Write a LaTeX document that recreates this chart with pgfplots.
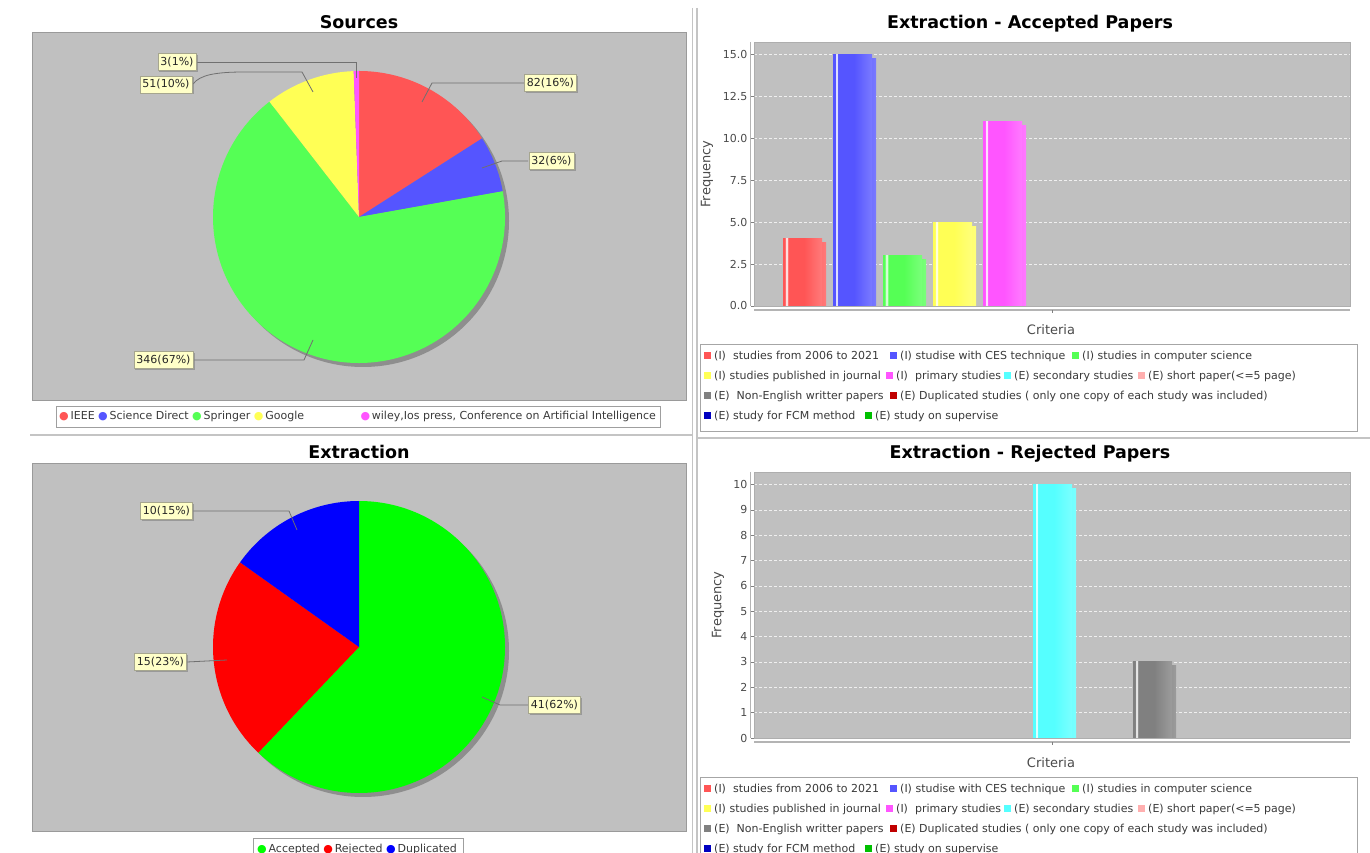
\documentclass[border=0pt]{standalone}
\usepackage{pgfplots}
\pgfplotsset{compat=1.18}
\usepackage{pgfplotstable}
\usepackage{fontspec}
\setmainfont{DejaVu Sans}
\usetikzlibrary{shadows}

% panel colours
\definecolor{plotbg}{HTML}{C0C0C0}
\definecolor{framegray}{HTML}{9A9A9A}
\definecolor{shadowgray}{HTML}{8E8E8E}
\definecolor{labelfill}{HTML}{FFFFC8}
\definecolor{labeldraw}{HTML}{A6A68E}
\definecolor{leader}{HTML}{707070}
\definecolor{ticktext}{HTML}{4A4A4A}
\definecolor{legtext}{HTML}{3A3A3A}
\definecolor{sepgray}{HTML}{C4C4C4}
\definecolor{axisgray}{HTML}{B4B4B4}
% series palette
\definecolor{cRed}{HTML}{FF5555}
\definecolor{cBlue}{HTML}{5555FF}
\definecolor{cGreen}{HTML}{55FF55}
\definecolor{cYellow}{HTML}{FFFF55}
\definecolor{cMagenta}{HTML}{FF55FF}
\definecolor{cCyan}{HTML}{55FFFF}
\definecolor{cPink}{HTML}{FFAFAF}
\definecolor{cGray}{HTML}{808080}
\definecolor{cDkRed}{HTML}{C00000}
\definecolor{cDkBlue}{HTML}{0000C0}
\definecolor{cDkGreen}{HTML}{00C000}
\definecolor{pAcc}{HTML}{00FF00}
\definecolor{pRej}{HTML}{FF0000}
\definecolor{pDup}{HTML}{0000FF}

\colorlet{srccol0}{cRed}
\colorlet{srccol1}{cBlue}
\colorlet{srccol2}{cGreen}
\colorlet{srccol3}{cYellow}
\colorlet{srccol4}{cMagenta}
\colorlet{extcol0}{pAcc}
\colorlet{extcol1}{pRej}
\colorlet{extcol2}{pDup}
\colorlet{critcol0}{cRed}
\colorlet{critcol1}{cBlue}
\colorlet{critcol2}{cGreen}
\colorlet{critcol3}{cYellow}
\colorlet{critcol4}{cMagenta}
\colorlet{critcol5}{cCyan}
\colorlet{critcol6}{cPink}
\colorlet{critcol7}{cGray}
\colorlet{critcol8}{cDkRed}
\colorlet{critcol9}{cDkBlue}
\colorlet{critcol10}{cDkGreen}

% bar fill: thin light stripe near the left edge, slightly lighter towards the right
\newcommand\barshading[1]{%
  \colorlet{tmpbase}{#1}\colorlet{tmpstripe}{white!80!#1}\colorlet{tmplight}{#1!78!white}%
  \pgfdeclarehorizontalshading{bar#1}{100bp}{color(0bp)=(tmpbase); color(25bp)=(tmpbase);
    color(27.6bp)=(tmpbase); color(28.4bp)=(tmpstripe); color(30.6bp)=(tmpstripe);
    color(31.4bp)=(tmpbase); color(52bp)=(tmpbase); color(75bp)=(tmplight); color(100bp)=(tmplight)}}
\foreach \k in {0,...,10}{\barshading{critcol\k}}

% Sources: IEEE, Science Direct, Springer, Google, wiley/Ios press/...
\pgfplotstableread{
count
82
32
346
51
3
}\sourcesdata

% Extraction: Accepted, Rejected, Duplicated
\pgfplotstableread{
count
41
15
10
}\extractiondata

% criteria frequencies
\pgfplotstableread{
idx accepted rejected
0  4  0
1  15 0
2  3  0
3  5  0
4  11 0
5  0  10
6  0  0
7  0  3
8  0  0
9  0  0
10 0  0
}\criteriadata

% slice angles: clockwise from 12 o'clock, stored globally as <prefix>A<i>, <prefix>B<i>
\newcommand\piesetup[2]{%
  \pgfplotstablegetrowsof{#1}%
  \pgfmathtruncatemacro\pielast{\pgfplotsretval-1}%
  \xdef\pietot{0}%
  \foreach \i in {0,...,\pielast}{%
    \pgfplotstablegetelem{\i}{count}\of#1%
    \pgfmathsetmacro\pieT{\pietot+\pgfplotsretval}\xdef\pietot{\pieT}}%
  \xdef\piecum{0}%
  \foreach \i in {0,...,\pielast}{%
    \pgfplotstablegetelem{\i}{count}\of#1%
    \pgfmathsetmacro\pieA{90-360*(\piecum/\pietot)}%
    \pgfmathsetmacro\pieC{\piecum+\pgfplotsretval}\xdef\piecum{\pieC}%
    \pgfmathsetmacro\pieB{90-360*(\piecum/\pietot)}%
    \expandafter\xdef\csname #2A\i\endcsname{\pieA}%
    \expandafter\xdef\csname #2B\i\endcsname{\pieB}}}

\newcommand\pieslice[4]{%
  \fill[#1] (axis cs:0,0) -- (axis cs:{cos(#2)},{sin(#2)})
    arc[start angle=#2, end angle=#3, radius=#4] -- cycle;}

\newcommand\drawpie[3]{% prefix, slice indices, colour prefix
  \fill[shadowgray] (axis cs:0,0) ++(4pt,-4pt) circle[radius=146pt];
  \pgfplotsinvokeforeach{#2}{%
    \edef\doslice{\noexpand\pieslice{#3##1}{\csname #1A##1\endcsname}{\csname #1B##1\endcsname}{146pt}}%
    \doslice}}

\newcommand\titlefont{\fontsize{17.5}{21}\selectfont\bfseries}
\newcommand\axlabfont{\fontsize{13}{15}\selectfont}
\newcommand\legfont{\fontsize{11}{13}\selectfont}
\newcommand\labfont{\fontsize{11}{13}\selectfont}

\pgfplotsset{
  pieaxis/.style={
    scale only axis, anchor=south west, width=654pt, height=368pt,
    axis background/.style={fill=plotbg},
    axis line style={draw=framegray, line width=0.8pt},
    xtick=\empty, ytick=\empty},
  barchart/.style={
    scale only axis, anchor=south west, width=596pt,
    xmin=-0.97, xmax=10.95, ymin=0,
    axis background/.style={fill=plotbg},
    axis line style={draw=framegray!80, line width=0.8pt},
    xtick=\empty, ytick pos=left,
    ymajorgrids, major grid style={densely dashed, white!75!plotbg, line width=0.6pt},
    tick align=outside, major tick length=3pt,
    ytick style={draw=gray, line width=0.6pt},
    yticklabel style={font=\legfont, text=ticktext},
    /pgf/number format/assume math mode=true},
  critbar/.style={ybar, bar shift=0pt, bar width=39pt, draw=none,
    shade, shading=bar#1,
    restrict y to domain=0.5:1000,
    drop shadow={shadow xshift=4pt, shadow yshift=-4pt, opacity=1, fill=shadowgray}},
}

\tikzset{
  labelbox/.style={fill=labelfill, draw=labeldraw, line width=0.7pt,
    inner xsep=2.5pt, inner ysep=2pt, minimum height=17pt, font=\labfont, text=black!85,
    drop shadow={shadow xshift=1.5pt, shadow yshift=-1.5pt, opacity=0.6, fill=gray}},
  leaderline/.style={draw=leader, line width=0.8pt},
}

\newcommand\legsq[4]{%
  \node[anchor=west, inner sep=0pt, font=\legfont, text=legtext] at (#1,{853-(#2)})
    {\textcolor{#3}{\rule[0.5pt]{7pt}{7pt}}\hspace{3pt}#4};}

\newcommand\critlegend[1]{% top edge of the legend box
  \draw[gray!70, fill=white, line width=0.8pt] (700,{853-(#1)}) rectangle (1357,{853-(#1)-87});
  \legsq{704}{#1+12}{cRed}{(I)\ \ studies from 2006 to 2021}
  \legsq{890}{#1+12}{cBlue}{(I) studise with CES technique}
  \legsq{1072}{#1+12}{cGreen}{(I) studies in computer science}
  \legsq{704}{#1+32}{cYellow}{(I) studies published in journal}
  \legsq{886}{#1+32}{cMagenta}{(I)\ \ primary studies}
  \legsq{1004}{#1+32}{cCyan}{(E) secondary studies}
  \legsq{1138}{#1+32}{cPink}{(E) short paper(<=5 page)}
  \legsq{704}{#1+52}{cGray}{(E)\ \ Non-English writter papers}
  \legsq{890}{#1+52}{cDkRed}{(E) Duplicated studies ( only one copy of each study was included)}
  \legsq{704}{#1+72}{cDkBlue}{(E) study for FCM method}
  \legsq{865}{#1+72}{cDkGreen}{(E) study on supervise}}

\piesetup{\sourcesdata}{src}
\piesetup{\extractiondata}{ext}

\begin{document}
\begin{tikzpicture}[x=1pt, y=1pt]
\path[use as bounding box] (0,0) rectangle (1370,853);
\clip (0,0) rectangle (1370,853);

% panel separators
\draw[sepgray, line width=1.2pt] (692.5,853-8) -- (692.5,0);
\draw[sepgray, line width=1.2pt] (697,853-8) -- (697,0);
\draw[sepgray, line width=1.5pt] (30,853-435) -- (692,853-435);
\draw[sepgray, line width=1.5pt] (697,853-438) -- (1370,853-438);

% ---------------- Sources ----------------
\node[font=\titlefont, anchor=base] at (359,853-29) {Sources};
\begin{axis}[pieaxis, at={(32pt,453pt)},
  xmin=-2.2397, xmax=2.2397, ymin=-1.2534, ymax=1.2671]
  \drawpie{src}{0,...,4}{srccol}
\end{axis}
\draw[leaderline] (197,853-62) -- (356,853-62) -- (356,853-78);
\draw[leaderline] (193,853-84) .. controls (200,853-75) and (215,853-72) .. (245,853-72) -- (302,853-72) -- (313,853-92);
\draw[leaderline] (524,853-83) -- (432,853-83) -- (422,853-102);
\draw[leaderline] (528,853-161) -- (502,853-161) -- (482,853-168);
\draw[leaderline] (193,853-360) -- (304,853-360) -- (313,853-340);
\node[labelbox] at (177,853-62) {3(1\%)};
\node[labelbox] at (166,853-84.5) {51(10\%)};
\node[labelbox] at (550.5,853-83) {82(16\%)};
\node[labelbox] at (551.5,853-161) {32(6\%)};
\node[labelbox] at (163.5,853-360) {346(67\%)};
\draw[gray!75, fill=white, line width=0.8pt] (56,853-406) rectangle (660,853-427);
\node[anchor=west, inner sep=0pt, font=\legfont, text=legtext] at (59,853-416.5)
  {\textcolor{cRed}{●}\,IEEE \textcolor{cBlue}{●}\,Science Direct \textcolor{cGreen}{●}\,Springer \textcolor{cYellow}{●}\,Google};
\node[anchor=east, inner sep=0pt, font=\legfont, text=legtext] at (656,853-416.5)
  {\textcolor{cMagenta}{●}\,wiley,Ios press, Conference on Artificial Intelligence};

% ---------------- Extraction ----------------
\node[font=\titlefont, anchor=base] at (359,853-459) {Extraction};
\begin{axis}[pieaxis, at={(32pt,22pt)},
  xmin=-2.2397, xmax=2.2397, ymin=-1.2603, ymax=1.2603]
  \drawpie{ext}{0,...,2}{extcol}
\end{axis}
\draw[leaderline] (193,853-511) -- (289,853-511) -- (297,853-530);
\draw[leaderline] (187,853-662) -- (227,853-660);
\draw[leaderline] (528,853-705) -- (500,853-705) -- (482,853-697);
\node[labelbox] at (166.5,853-511) {10(15\%)};
\node[labelbox] at (160.5,853-662) {15(23\%)};
\node[labelbox] at (554.5,853-705) {41(62\%)};
\draw[gray!75, fill=white, line width=0.8pt] (253,853-838) rectangle (463,853-862);
\node[anchor=west, inner sep=0pt, font=\legfont, text=legtext] at (257,853-849.5)
  {\textcolor{pAcc}{●}\,Accepted \textcolor{pRej}{●}\,Rejected \textcolor{pDup}{●}\,Duplicated};

% ---------------- Extraction - Accepted Papers ----------------
\node[font=\titlefont, anchor=base] at (1030,853-29) {Extraction - Accepted Papers};
\begin{axis}[barchart, at={(754pt,547pt)}, height=264pt, ymax=15.75,
  ytick={0,2.5,...,15},
  yticklabel style={/pgf/number format/.cd, fixed, fixed zerofill, precision=1}]
  \pgfplotsinvokeforeach{0,...,10}{%
    \addplot[critbar=critcol#1, restrict x to domain=#1:#1]
      table[x=idx, y=accepted] {\criteriadata};}
\end{axis}
\draw[axisgray, line width=1.2pt] (754,853-310) -- (1350,853-310);
\draw[gray, line width=0.6pt] (1052.5,853-310) -- (1052.5,853-313);
\draw[axisgray, line width=1pt] (750.5,853-42) -- (750.5,853-306);
\node[rotate=90, font=\axlabfont, text=ticktext] at (707,853-174) {Frequency};
\node[font=\axlabfont, text=ticktext] at (1051,853-330) {Criteria};
\critlegend{344}

% ---------------- Extraction - Rejected Papers ----------------
\node[font=\titlefont, anchor=base] at (1030,853-459) {Extraction - Rejected Papers};
\begin{axis}[barchart, at={(754pt,115pt)}, height=266pt, ymax=10.5,
  ytick={0,1,...,10}]
  \pgfplotsinvokeforeach{0,...,10}{%
    \addplot[critbar=critcol#1, restrict x to domain=#1:#1]
      table[x=idx, y=rejected] {\criteriadata};}
\end{axis}
\draw[axisgray, line width=1.2pt] (754,853-742) -- (1350,853-742);
\draw[gray, line width=0.6pt] (1052.5,853-742) -- (1052.5,853-745);
\draw[axisgray, line width=1pt] (750.5,853-472) -- (750.5,853-738);
\node[rotate=90, font=\axlabfont, text=ticktext] at (718,853-605) {Frequency};
\node[font=\axlabfont, text=ticktext] at (1051,853-763) {Criteria};
\critlegend{777}
\end{tikzpicture}
\end{document}
